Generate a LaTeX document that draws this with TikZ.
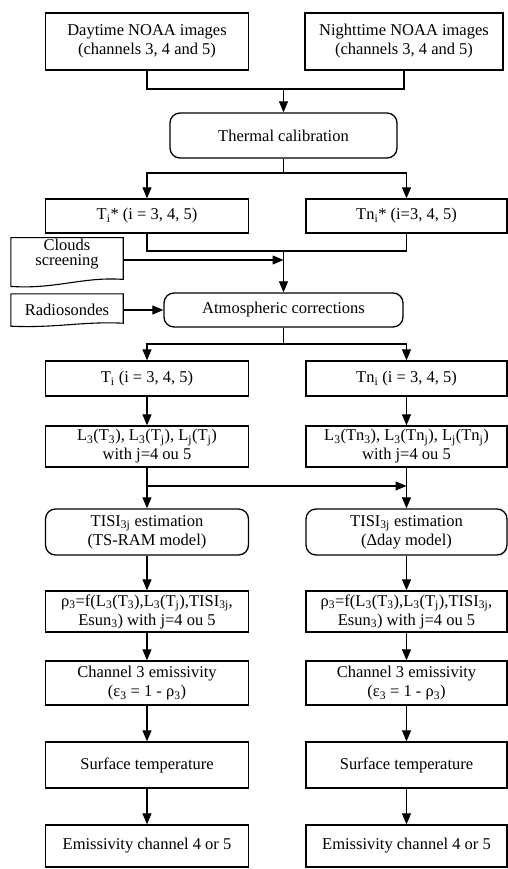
\documentclass[tikz,border=0pt]{standalone}
\usepackage{fontspec}
\setmainfont{Liberation Serif}
\usetikzlibrary{arrows.meta,calc,positioning}

\tikzset{
  block/.style={draw, line width=1.3pt, minimum width=203pt, align=center, inner sep=2pt},
  roundblock/.style={block, rounded corners=10pt},
  line/.style={line width=1.1pt},
  arrow/.style={line width=1.1pt, -{Triangle[width=9pt,length=11pt]}},
}

\begin{document}
\begin{tikzpicture}[x=1pt, y=-1pt, node distance=80pt, font=\fontsize{16.5}{19}\selectfont]
    \useasboundingbox (0,0) rectangle (508,869);
    % inputs
    \node[block, minimum height=57pt] (dayimg) at (147,41.5) {Daytime NOAA images \\ (channels 3, 4 and 5)};
    \node[block, minimum height=57pt, minimum width=198pt] (nightimg) at (404,41.5) {Nighttime NOAA images \\ (channels 3, 4 and 5)};
    \node[roundblock, minimum width=227pt, minimum height=45pt] (thermal) at (283.5,135.5) {Thermal calibration};
    \node[block, minimum height=34pt] (tstarL) at (147,216) {T\textsubscript{i}* (i = 3, 4, 5)};
    \node[block, minimum height=34pt, minimum width=201pt] (tstarR) [right of=tstarL, node distance=259.5pt] {Tn\textsubscript{i}* (i=3, 4, 5)};
    \node[minimum width=112pt, minimum height=45pt, align=center, inner sep=1pt, font=\fontsize{16.5}{15.5}\selectfont] (clouds) at (67,262) {Clouds \\ screening \\[4pt]};
    \node[minimum width=112pt, minimum height=32pt, inner sep=1pt] (radio) at (67,310) {Radiosondes};
    \node[roundblock, minimum width=239pt, minimum height=34pt] (atmcorr) at (283.5,310) {Atmospheric corrections};
    % left column
    \node[block, minimum height=35pt] (tiL) at (147,378.5) {T\textsubscript{i} (i = 3, 4, 5)};
    \node[block, minimum height=41pt] (lumL) [below of=tiL, node distance=68pt] {L\textsubscript{3}(T\textsubscript{3}), L\textsubscript{3}(T\textsubscript{j}), L\textsubscript{j}(T\textsubscript{j}) \\ with j=4 ou 5};
    \node[roundblock, minimum height=46pt] (tisiL) [below of=lumL, node distance=85.5pt] {TISI\textsubscript{3j} estimation \\ (TS-RAM model)};
    \node[block, minimum height=41pt] (rhoL) [below of=tisiL, node distance=79.5pt] {ρ\textsubscript{3}=f(L\textsubscript{3}(T\textsubscript{3}),L\textsubscript{3}(T\textsubscript{j}),TISI\textsubscript{3j}, \\ Esun\textsubscript{3}) with j=4 ou 5};
    \node[block, minimum height=44pt] (chanL) [below of=rhoL, node distance=71.5pt] {Channel 3 emissivity \\ (ε\textsubscript{3} = 1 - ρ\textsubscript{3})};
    \node[block, minimum height=46pt] (surfL) [below of=chanL, node distance=82pt] {Surface temperature};
    \node[block, minimum height=42pt] (emisL) [below of=surfL, node distance=81pt] {Emissivity channel 4 or 5};
    % right column
    \node[block, minimum height=35pt, minimum width=201pt] (tiR) [right of=tiL, node distance=259.5pt] {Tn\textsubscript{i} (i = 3, 4, 5)};
    \node[block, minimum height=41pt, minimum width=201pt] (lumR) [right of=lumL, node distance=259.5pt] {L\textsubscript{3}(Tn\textsubscript{3}), L\textsubscript{3}(Tn\textsubscript{j}), L\textsubscript{j}(Tn\textsubscript{j}) \\ with j=4 ou 5};
    \node[roundblock, minimum height=46pt, minimum width=201pt] (tisiR) [right of=tisiL, node distance=259.5pt] {TISI\textsubscript{3j} estimation \\ (Δday model)};
    \node[block, minimum height=41pt, minimum width=201pt] (rhoR) [right of=rhoL, node distance=259.5pt] {ρ\textsubscript{3}=f(L\textsubscript{3}(T\textsubscript{3}),L\textsubscript{3}(T\textsubscript{j}),TISI\textsubscript{3j}, \\ Esun\textsubscript{3}) with j=4 ou 5};
    \node[block, minimum height=44pt, minimum width=201pt] (chanR) [right of=chanL, node distance=259.5pt] {Channel 3 emissivity \\ (ε\textsubscript{3} = 1 - ρ\textsubscript{3})};
    \node[block, minimum height=46pt, minimum width=201pt] (surfR) [right of=surfL, node distance=259.5pt] {Surface temperature};
    \node[block, minimum height=42pt, minimum width=201pt] (emisR) [right of=emisL, node distance=259.5pt] {Emissivity channel 4 or 5};

    % document outlines
    \draw[line] (clouds.north west) -- (clouds.north east) -- ([yshift=7pt]clouds.south east)
        .. controls ([xshift=-40pt,yshift=10pt]clouds.south east) and ([xshift=45pt,yshift=-3pt]clouds.south west) .. (clouds.south west) -- cycle;
    \draw[line] (radio.north west) -- (radio.north east) -- ([yshift=3pt]radio.south east)
        .. controls ([xshift=-40pt,yshift=5pt]radio.south east) and ([xshift=45pt,yshift=-2pt]radio.south west) .. (radio.south west) -- cycle;

    % junctions
    \coordinate (topjoin) at (283.5,89);
    \coordinate (split1) at (283.5,173);
    \coordinate (midjoin) at (283.5,251);
    \coordinate (split2) at (283.5,344);

    \draw[line] (dayimg.south) |- (topjoin) -| (nightimg.south);
    \draw[arrow] (topjoin) -- (thermal.north);
    \draw[line] (thermal.south) -- (split1);
    \draw[arrow] (split1) -| (tstarL.north);
    \draw[arrow] (split1) -| (tstarR.north);
    \draw[line] (tstarL.south) |- (midjoin) -| (tstarR.south);
    \draw[arrow] (midjoin) -- (atmcorr.north);
    \draw[arrow] ([yshift=2pt]clouds.east) -- ([yshift=2pt]clouds.east -| midjoin);
    \draw[arrow] (radio.east) -- (radio.east -| atmcorr.west);
    \draw[line] (atmcorr.south) -- (split2);
    \draw[arrow] (split2) -| (tiL.north);
    \draw[arrow] (split2) -| (tiR.north);

    % columns
    \foreach \a/\b in {tiL/lumL, lumL/tisiL, tisiL/rhoL, rhoL/chanL, chanL/surfL, surfL/emisL,
                       tiR/lumR, lumR/tisiR, tisiR/rhoR, rhoR/chanR, chanR/surfR, surfR/emisR}
        \draw[arrow] (\a.south) -- (\b.north);
    \coordinate (crossL) at ($(lumL.south)!0.45!(tisiL.north)$);
    \draw[arrow] (crossL) -- (crossL -| lumR.south);
\end{tikzpicture}
\end{document}
